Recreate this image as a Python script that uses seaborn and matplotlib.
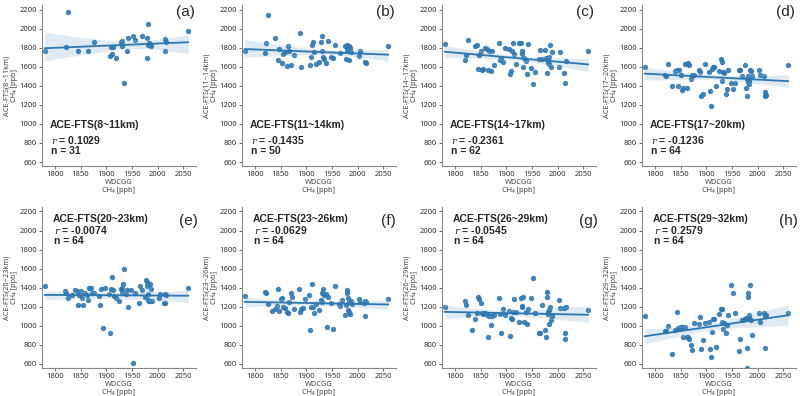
import numpy as np
import pandas as pd
import seaborn as sns
import matplotlib
matplotlib.use("Agg")
from matplotlib import pyplot as plt

# WDCGG CH4 (x) and ACE-FTS CH4 (y) per altitude layer
x_a = [1780, 1822, 1825, 1845, 1865, 1876, 1908, 1910, 1912, 1913,
       1920, 1928, 1930, 1931, 1935, 1940, 1943, 1952, 1957, 1969,
       1979, 1980, 1981, 1982, 1984, 1986, 1988, 2015, 2015, 2016, 2060]
y_a = [1760, 1810, 2170, 1760, 1760, 1860, 1710, 1810, 1730, 1810,
       1690, 1860, 1870, 1820, 1430, 1760, 1900, 1920, 1880, 1920,
       1690, 1900, 2050, 1830, 1850, 1840, 1820, 1890, 1770, 1860, 1970]

x_b = [1780, 1820, 1822, 1825, 1840, 1845, 1847, 1853, 1855, 1858,
       1862, 1865, 1866, 1870, 1876, 1888, 1890, 1908, 1910, 1912,
       1913, 1916, 1920, 1925, 1928, 1930, 1931, 1933, 1935, 1938,
       1943, 1948, 1952, 1957, 1966, 1975, 1977, 1979, 1980, 1981,
       1982, 1983, 1984, 1986, 1988, 2003, 2005, 2015, 2016, 2060]
y_b = [1770, 1740, 1850, 2140, 1900, 1670, 1790, 1640, 1730, 1750,
       1610, 1820, 1760, 1620, 1720, 1950, 1600, 1620, 1700, 1830,
       1860, 1750, 1630, 1650, 1860, 1920, 1770, 1700, 1680, 1640,
       1870, 1700, 1690, 1830, 1740, 1820, 1680, 1830, 1780, 1760,
       1760, 1670, 1820, 1800, 1750, 1710, 1770, 1650, 1640, 1820]

x_c = [1780, 1820, 1822, 1825, 1840, 1843, 1845, 1847, 1850, 1853,
       1855, 1858, 1862, 1865, 1866, 1870, 1872, 1876, 1886, 1888,
       1890, 1893, 1897, 1905, 1908, 1910, 1912, 1913, 1916, 1920,
       1925, 1928, 1930, 1931, 1933, 1935, 1938, 1940, 1943, 1948,
       1952, 1957, 1963, 1966, 1969, 1975, 1977, 1979, 1980, 1981,
       1982, 1983, 1984, 1986, 1988, 1990, 2003, 2005, 2013, 2015,
       2016, 2060]
y_c = [1840, 1670, 1720, 1880, 1820, 1830, 1580, 1720, 1770, 1570,
       1580, 1800, 1790, 1570, 1760, 1560, 1760, 1620, 1850, 1670,
       1690, 1650, 1800, 1790, 1520, 1550, 1770, 1850, 1730, 1630,
       1850, 1850, 1760, 1730, 1600, 1690, 1660, 1520, 1840, 1590,
       1420, 1540, 1680, 1780, 1680, 1780, 1690, 1530, 1680, 1640,
       1660, 1700, 1630, 1830, 1600, 1750, 1600, 1750, 1530, 1430,
       1660, 1770]

# the 64-point layers share the same WDCGG values
x_full = [1780, 1820, 1822, 1825, 1833, 1840, 1843, 1845, 1847, 1850,
          1853, 1855, 1858, 1862, 1865, 1866, 1870, 1872, 1876, 1886,
          1888, 1890, 1893, 1897, 1905, 1908, 1910, 1912, 1913, 1916,
          1920, 1925, 1928, 1930, 1931, 1933, 1935, 1938, 1940, 1943,
          1948, 1952, 1957, 1963, 1966, 1969, 1975, 1977, 1979, 1980,
          1981, 1982, 1983, 1984, 1986, 1988, 1990, 2003, 2005, 2013,
          2015, 2015, 2016, 2060]
y_d = [1600, 1510, 1500, 1630, 1400, 1560, 1570, 1400, 1570, 1510,
       1360, 1380, 1630, 1380, 1640, 1620, 1470, 1510, 1510, 1570,
       1540, 1290, 1310, 1630, 1540, 1350, 1190, 1580, 1600, 1600,
       1400, 1550, 1680, 1650, 1450, 1540, 1530, 1310, 1370, 1570,
       1430, 1370, 1430, 1570, 1570, 1500, 1620, 1380, 1290, 1470,
       1440, 1500, 1450, 1420, 1570, 1560, 1500, 1570, 1510, 1500,
       1330, 1290, 1300, 1620]
y_e = [1420, 1370, 1350, 1290, 1320, 1380, 1370, 1220, 1320, 1370,
       1290, 1220, 1340, 1320, 1270, 1400, 1400, 1340, 1350, 1310,
       1220, 1390, 980, 1400, 1330, 920, 1390, 1510, 1380, 1310,
       1290, 1260, 1390, 1400, 1360, 1440, 1600, 1330, 1380, 1200,
       1380, 610, 1340, 1240, 1420, 1380, 1300, 1480, 1460, 1420,
       1270, 1330, 1260, 1260, 1440, 1390, 1260, 1290, 1330, 1240,
       1330, 1240, 1320, 1400]
y_f = [1310, 1360, 1340, 1230, 1160, 1180, 1210, 1390, 1160, 1280,
       1290, 1200, 1190, 1150, 1130, 1250, 1350, 1300, 1180, 1390,
       1150, 1180, 1190, 1280, 1320, 960, 1200, 1440, 1200, 1140,
       1230, 1170, 1270, 1340, 1250, 1390, 1320, 1330, 990, 1300,
       1240, 970, 1420, 1230, 1210, 1270, 1110, 1220, 1380, 1340,
       1290, 1170, 1150, 1250, 1120, 1260, 1230, 1280, 1250, 1240,
       1100, 1260, 1250, 1280]
y_g = [1200, 1260, 1215, 1110, 960, 1070, 1140, 1300, 1280, 1240,
       1130, 1120, 1140, 1110, 880, 1100, 1010, 1100, 1110, 1290,
       1120, 920, 1180, 1110, 1160, 890, 1080, 1070, 1150, 1280,
       1150, 1040, 1290, 1210, 1200, 1300, 1040, 1150, 1020, 1180,
       1290, 1500, 1140, 930, 920, 1220, 960, 880, 1360, 1300,
       1150, 1120, 1020, 1170, 1200, 1060, 1100, 1270, 1190, 1190,
       920, 860, 1195, 1170]
y_h = [1100, 950, 945, 1000, 710, 960, 1150, 975, 980, 990,
       990, 880, 990, 880, 880, 860, 800, 745, 1030, 1020,
       1090, 760, 855, 1030, 1040, 760, 670, 935, 1070, 1075,
       775, 1125, 1175, 1040, 1180, 970, 1025, 925, 1010, 1110,
       1430, 1350, 1130, 740, 860, 1060, 1070, 1080, 560, 770,
       1300, 1350, 1080, 1110, 1430, 1060, 900, 1135, 1045, 1130,
       1100, 770, 1110, 1140]

xs = [x_a, x_b, x_c, x_full, x_full, x_full, x_full, x_full]
ys = [y_a, y_b, y_c, y_d, y_e, y_f, y_g, y_h]
layers = ['8~11km', '11~14km', '14~17km', '17~20km',
          '20~23km', '23~26km', '26~29km', '29~32km']
r_vals = ['0.1029', '-0.1435', '-0.2361', '-0.1236',
          '-0.0074', '-0.0629', '-0.0545', '0.2579']
n_vals = [31, 50, 62, 64, 64, 64, 64, 64]
letters = ['(a)', '(b)', '(c)', '(d)', '(e)', '(f)', '(g)', '(h)']

sns.set_style('ticks')
plt.rcParams['font.family'] = ['Noto Sans', 'DejaVu Sans']
plt.rcParams['mathtext.fontset'] = 'dejavuserif'
bold_font = ['Liberation Sans', 'DejaVu Sans']

fig = plt.figure(figsize=(8, 3.96), dpi=100)
blue = '#2f77b0'

for i in range(8):
    row, col = divmod(i, 4)
    left = 0.0525 + col * 0.25
    bottom = 0.58 if row == 0 else 0.07
    ax = fig.add_axes([left, bottom, 0.1925, 0.408])
    df = pd.DataFrame({'WDCGG': xs[i], 'ACE': ys[i]})
    sns.regplot(data=df, x='WDCGG', y='ACE', ax=ax, color=blue, seed=0,
                scatter_kws={'s': 15, 'alpha': 0.9, 'linewidths': 0},
                line_kws={'lw': 1.3})
    ax.set_xlim(1775, 2075)
    ax.set_ylim(555, 2250)
    ax.set_xticks(range(1800, 2051, 50))
    ax.set_yticks(range(600, 2201, 200))
    ax.tick_params(labelsize=5.5, length=2.5, width=0.6, pad=1,
                   colors='#555555', labelcolor='#333333')
    for s in ['left', 'bottom']:
        ax.spines[s].set_color('#888888')
        ax.spines[s].set_linewidth(0.8)
    sns.despine(ax=ax)
    ax.set_xlabel('WDCGG\nCH₄ [ppb]', fontsize=5.3, color='#444444',
                  labelpad=0.5, linespacing=1.15)
    ax.set_ylabel(f'ACE-FTS({layers[i]})\nCH₄ [ppb]', fontsize=5.3,
                  color='#444444', labelpad=1, linespacing=1.15)

    if row == 0:
        tx, ty = 0.05, [0.255, 0.165, 0.095]
        lx, ly = 0.93, 0.955
    else:
        tx, ty = 0.07, [0.925, 0.853, 0.785]
        lx, ly = 0.95, 0.91
    ax.text(tx, ty[0], f'ACE-FTS({layers[i]})', transform=ax.transAxes,
            fontsize=7.5, fontweight='bold', va='center', family=bold_font)
    ax.text(tx + 0.01, ty[1], f'$r$ = {r_vals[i]}', transform=ax.transAxes,
            fontsize=7.5, fontweight='bold', va='center', family=bold_font)
    ax.text(tx + 0.01, ty[2], f'n = {n_vals[i]}', transform=ax.transAxes,
            fontsize=7.5, fontweight='bold', va='center', family=bold_font)
    ax.text(lx, ly, letters[i], transform=ax.transAxes, fontsize=11,
            ha='center', va='center', family=bold_font)

fig.savefig('out.png', dpi=100)
